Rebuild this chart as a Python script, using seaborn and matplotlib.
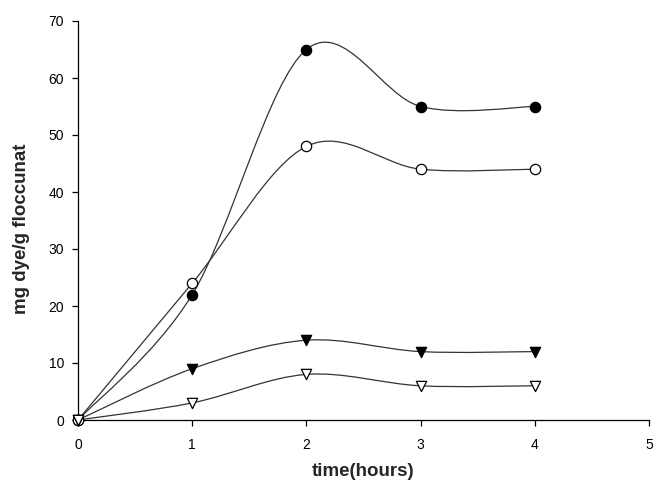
import matplotlib
matplotlib.use('Agg')
import matplotlib.pyplot as plt
from matplotlib.path import Path
from matplotlib.patches import PathPatch
import pandas as pd
import seaborn as sns

hours = [0, 1, 2, 3, 4]
filled_circle = [0, 22, 65, 55, 55]
open_circle = [0, 24, 48, 44, 44]
filled_triangle = [0, 9, 14, 12, 12]
open_triangle = [0, 3, 8, 6, 6]

series = [
    ('filled_circle', filled_circle, 'o', 'black'),
    ('open_circle', open_circle, 'o', 'white'),
    ('filled_triangle', filled_triangle, 'v', 'black'),
    ('open_triangle', open_triangle, 'v', 'white'),
]


def smooth_path(x, y):
    # excel-ish smoothed line: cubic bezier with 1/6 tangents
    n = len(x)
    verts = [(x[0], y[0])]
    codes = [Path.MOVETO]
    for i in range(n - 1):
        a = max(i - 1, 0)
        b = min(i + 2, n - 1)
        c1 = (x[i] + (x[i + 1] - x[a]) / 6, y[i] + (y[i + 1] - y[a]) / 6)
        c2 = (x[i + 1] - (x[b] - x[i]) / 6, y[i + 1] - (y[b] - y[i]) / 6)
        verts += [c1, c2, (x[i + 1], y[i + 1])]
        codes += [Path.CURVE4] * 3
    return Path(verts, codes)


def main():
    sns.set_style('ticks')
    plt.rcParams['font.family'] = ['Liberation Sans', 'DejaVu Sans']

    fig = plt.figure(figsize=(6.53, 4.83), dpi=100)
    ax = fig.add_axes([78 / 653, 63 / 483, 571 / 653, 399 / 483])

    for name, vals, marker, face in series:
        ax.add_patch(PathPatch(smooth_path(hours, vals), facecolor='none',
                               edgecolor='#333333', lw=0.9, zorder=2))
        df = pd.DataFrame({'time': hours, 'value': vals})
        sns.scatterplot(data=df, x='time', y='value', marker=marker, s=55,
                        color=face, edgecolor='black', linewidth=0.9,
                        zorder=3, ax=ax, clip_on=False)

    ax.set_xlim(0, 5)
    ax.set_ylim(0, 70)
    ax.set_xticks(range(0, 6))
    ax.set_yticks(range(0, 71, 10))
    ax.tick_params(direction='out', length=4, width=0.9, colors='black',
                   labelsize=10)
    ax.tick_params(axis='x', pad=9)
    ax.tick_params(axis='y', pad=6)
    for s in ['left', 'bottom']:
        ax.spines[s].set_color('black')
        ax.spines[s].set_linewidth(0.9)
    sns.despine(ax=ax)

    ax.set_xlabel('time(hours)', fontsize=13.5, fontweight='bold')
    ax.xaxis.set_label_coords(0.5, -0.108)
    ax.set_ylabel('mg dye/g floccunat', fontsize=13.5, fontweight='bold')
    ax.yaxis.set_label_coords(-0.084, 0.48)

    fig.savefig('out.png', dpi=100)
    plt.close(fig)


if __name__ == '__main__':
    main()
